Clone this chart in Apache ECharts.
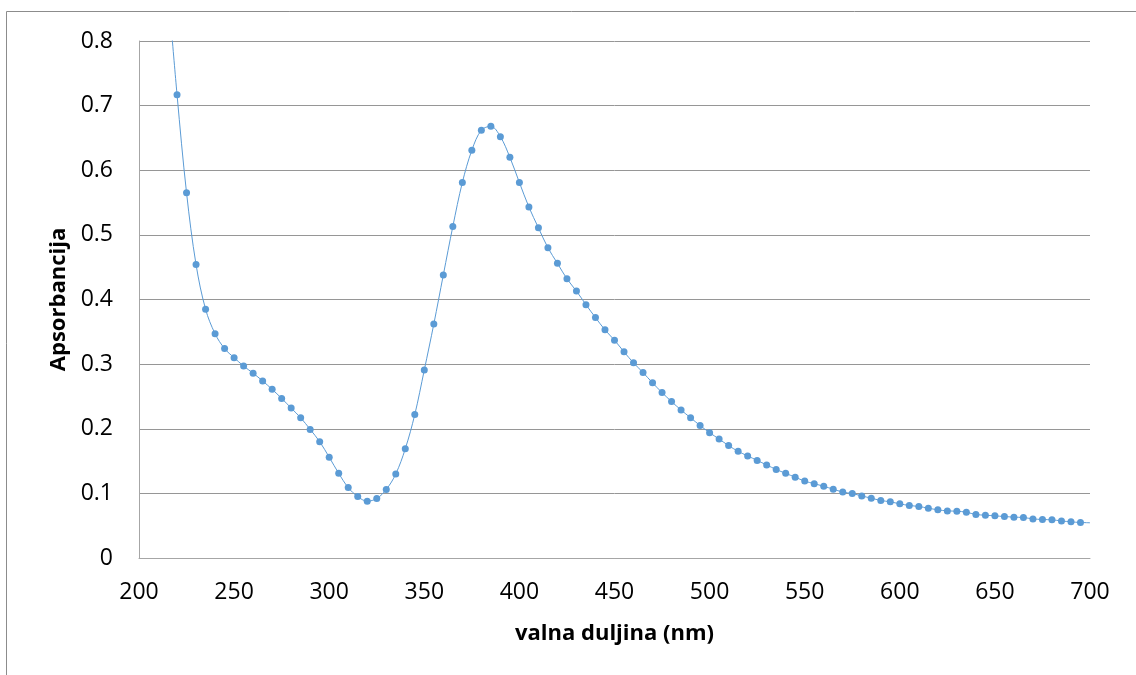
<!DOCTYPE html>
<html>
<head>
<meta charset="utf-8">
<script src="https://cdn.jsdelivr.net/npm/echarts@6/dist/echarts.min.js"></script>
<style>
html,body{margin:0;padding:0;background:#fff;}
#chart{width:1136px;height:675px;}
</style>
</head>
<body>
<div id="chart"></div>
<script>
const wavelengths = [215,220,225,230,235,240,245,250,255,260,265,270,275,280,285,290,295,300,305,310,315,320,325,330,335,340,345,350,355,360,365,370,375,380,385,390,395,400,405,410,415,420,425,430,435,440,445,450,455,460,465,470,475,480,485,490,495,500,505,510,515,520,525,530,535,540,545,550,555,560,565,570,575,580,585,590,595,600,605,610,615,620,625,630,635,640,645,650,655,660,665,670,675,680,685,690,695,700];
const absorbance = [0.89,0.717,0.565,0.454,0.385,0.347,0.324,0.310,0.297,0.286,0.274,0.261,0.247,0.232,0.217,0.199,0.180,0.156,0.131,0.109,0.095,0.088,0.092,0.106,0.130,0.169,0.222,0.291,0.362,0.438,0.513,0.581,0.631,0.662,0.668,0.652,0.620,0.581,0.543,0.511,0.480,0.456,0.432,0.413,0.392,0.372,0.353,0.337,0.319,0.302,0.287,0.271,0.256,0.242,0.229,0.217,0.205,0.194,0.184,0.174,0.165,0.158,0.151,0.144,0.137,0.131,0.125,0.119,0.115,0.111,0.1065,0.102,0.0998,0.096,0.0926,0.089,0.0869,0.0838,0.0813,0.0797,0.0771,0.0745,0.0729,0.0724,0.0709,0.0673,0.0663,0.0652,0.0642,0.0632,0.0627,0.0605,0.0596,0.059,0.0574,0.0559,0.055,0.0545];
const xTicks = [200,250,300,350,400,450,500,550,600,650,700];
const yTicks = [0,0.1,0.2,0.3,0.4,0.5,0.6,0.7,0.8];
const xTitle = 'valna duljina (nm)';
const yTitle = 'Apsorbancija';

const xMin = xTicks[0], xMax = xTicks[xTicks.length-1];
const yMin = yTicks[0], yMax = yTicks[yTicks.length-1];
const seriesData = wavelengths.map((w,i)=>[w, absorbance[i]]);
const FONT = '"Open Sans", "Liberation Sans", sans-serif';

const chart = echarts.init(document.getElementById('chart'), null, {renderer:'canvas'});
chart.setOption({
  animation:false,
  backgroundColor:'#fff',
  graphic:[{
    type:'rect', silent:true,
    shape:{x:6.5, y:11.5, width:1300, height:900},
    style:{fill:'none', stroke:'#8c8c8c', lineWidth:1}
  }],
  grid:{left:139, right:46, top:41, bottom:117, containLabel:false},
  xAxis:{
    type:'value', min:xMin, max:xMax, interval:50,
    axisLine:{show:true, lineStyle:{color:'#a6a6a6', width:1}},
    axisTick:{show:false},
    splitLine:{show:false},
    axisLabel:{color:'#000', fontSize:23, fontFamily:FONT, margin:23},
    name:xTitle, nameLocation:'middle', nameGap:65,
    nameTextStyle:{color:'#000', fontSize:22, fontWeight:'bold', fontFamily:FONT}
  },
  yAxis:{
    type:'value', min:yMin, max:yMax, interval:0.1,
    axisLine:{show:true, lineStyle:{color:'#a6a6a6', width:1}},
    axisTick:{show:false},
    splitLine:{show:true, lineStyle:{color:'#969696', width:1}},
    axisLabel:{color:'#000', fontSize:23, fontFamily:FONT, margin:26,
      formatter:v=>String(Math.round(v*10)/10)},
    name:yTitle, nameLocation:'middle', nameGap:67,
    nameTextStyle:{color:'#000', fontSize:22, fontWeight:'bold', fontFamily:FONT}
  },
  series:[{
    type:'line',
    data:seriesData,
    smooth:0.35,
    clip:true,
    symbol:'circle',
    symbolSize:(val)=> (val[0] > xMin && val[0] < xMax && val[1] <= yMax) ? 7 : 0,
    showAllSymbol:true,
    lineStyle:{color:'#5b9bd5', width:1},
    itemStyle:{color:'#5b9bd5', borderWidth:0}
  }]
});
</script>
</body>
</html>
